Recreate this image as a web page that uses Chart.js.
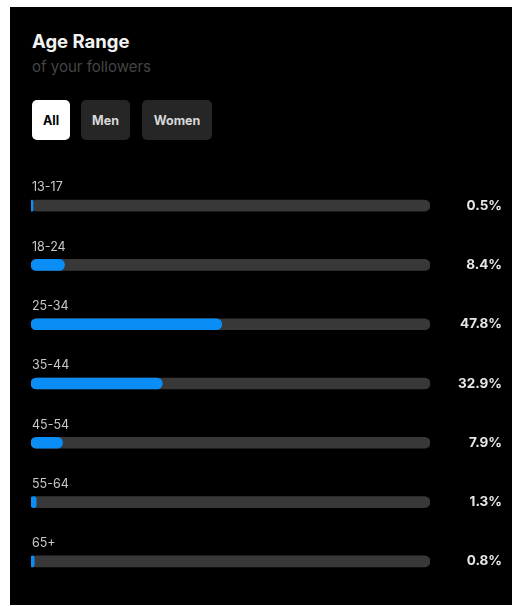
<!DOCTYPE html>
<html>
<head>
<meta charset="utf-8">
<script src="https://cdn.jsdelivr.net/npm/chart.js@4/dist/chart.umd.min.js"></script>
<style>
  html, body { margin: 0; padding: 0; background: #fff; width: 512px; height: 606px; overflow: hidden; }
  #panel { position: absolute; left: 10px; top: 7px; width: 502px; height: 598px; background: #000; }
  #title { position: absolute; left: 22px; top: 23px; color: #f2f2f2; font: bold 18.5px "Inter", "DejaVu Sans", sans-serif; }
  #sub { position: absolute; left: 22px; top: 50px; color: #454545; font: 15px "Inter", "DejaVu Sans", sans-serif; }
  .btn { position: absolute; top: 93px; height: 40px; border-radius: 5px; background: #262626; color: #d8d8d8;
         font: bold 12.5px "Inter", "DejaVu Sans", sans-serif; display: flex; align-items: center; justify-content: center; }
  .btn.on { background: #fff; color: #000; }
  #chart { position: absolute; left: 0; top: 0; }
</style>
</head>
<body>
<div id="panel">
  <div id="title">Age Range</div>
  <div id="sub">of your followers</div>
  <div class="btn on" style="left:22px;width:38px;">All</div>
  <div class="btn" style="left:71px;width:49px;">Men</div>
  <div class="btn" style="left:132px;width:70px;">Women</div>
</div>
<canvas id="chart" width="512" height="606"></canvas>
<script>
const categories = ["13-17", "18-24", "25-34", "35-44", "45-54", "55-64", "65+"];
const shares = [0.5, 8.4, 47.8, 32.9, 7.9, 1.3, 0.8];
const trackValues = [100, 100, 100, 100, 100, 100, 100];
const valueLabels = ["0.5%", "8.4%", "47.8%", "32.9%", "7.9%", "1.3%", "0.8%"];

const labelPlugin = {
  id: 'rowLabels',
  afterDatasetsDraw(chart) {
    const ctx = chart.ctx;
    const y = chart.scales.y;
    const area = chart.chartArea;
    ctx.save();
    ctx.textBaseline = 'middle';
    categories.forEach((c, i) => {
      const cy = y.getPixelForValue(i);
      ctx.font = '12.5px "Inter", "DejaVu Sans", sans-serif';
      ctx.fillStyle = '#c8c8c8';
      ctx.textAlign = 'left';
      ctx.fillText(c, area.left + 1, cy - 18);
      ctx.font = 'bold 13.5px "Inter", "DejaVu Sans", sans-serif';
      ctx.fillStyle = '#e6e6e6';
      ctx.textAlign = 'right';
      ctx.fillText(valueLabels[i], 502, cy);
    });
    ctx.restore();
  }
};

new Chart(document.getElementById('chart'), {
  type: 'bar',
  data: {
    labels: categories,
    datasets: [
      { label: 'Share', data: shares, backgroundColor: '#0a8ef5', order: 0,
        barThickness: 11, borderRadius: 5.5, borderSkipped: false, grouped: false },
      { label: 'Track', data: trackValues, backgroundColor: '#383838', order: 1,
        barThickness: 11, borderRadius: 5.5, borderSkipped: false, grouped: false }
    ]
  },
  options: {
    indexAxis: 'y',
    responsive: false,
    animation: false,
    layout: { padding: { left: 31, right: 82, top: 176, bottom: 15 } },
    scales: {
      x: { display: false, min: 0, max: 100 },
      y: { display: false }
    },
    plugins: { legend: { display: false }, tooltip: { enabled: false } }
  },
  plugins: [labelPlugin]
});
</script>
</body>
</html>
